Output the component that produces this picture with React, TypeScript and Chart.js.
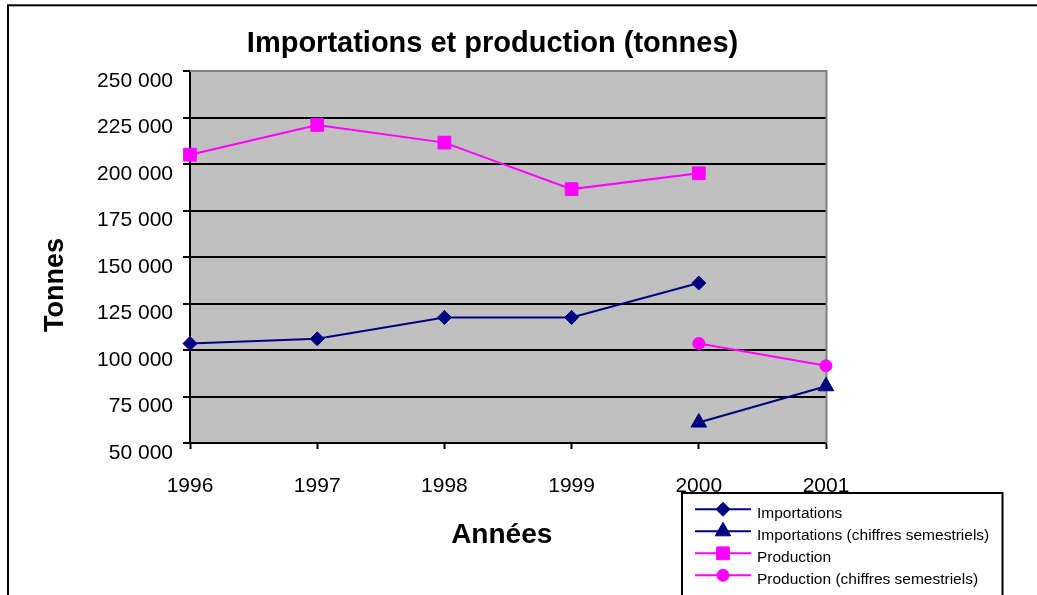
import React, { useEffect, useRef } from 'react';
import { Chart, registerables } from 'chart.js';

Chart.register(...registerables);

// ---- Data ----
const CHART_TITLE = 'Importations et production (tonnes)';
const X_TITLE = 'Années';
const Y_TITLE = 'Tonnes';
const YEARS = ['1996', '1997', '1998', '1999', '2000', '2001'];
const IMPORTATIONS = [103500, 106000, 117500, 117500, 136000, null];
const IMPORTATIONS_SEM = [null, null, null, null, 61000, 80500];
const PRODUCTION = [205000, 221000, 211500, 186500, 195000, null];
const PRODUCTION_SEM = [null, null, null, null, 103500, 91500];
const SERIES_LABELS = [
  'Importations',
  'Importations (chiffres semestriels)',
  'Production',
  'Production (chiffres semestriels)',
];
const Y_MIN = 50000;
const Y_MAX = 250000;
const Y_STEP = 25000;

const NAVY = '#000080';
const MAGENTA = '#FF00FF';
const FONT = '"Liberation Sans", Arial, Helvetica, sans-serif';

function fmt(v: number): string {
  return String(Math.round(v)).replace(/\B(?=(\d{3})+(?!\d))/g, ' ');
}

function drawMarker(ctx: CanvasRenderingContext2D, style: string, x: number, y: number, r: number, color: string) {
  ctx.beginPath();
  if (style === 'rectRot') {
    ctx.moveTo(x - r, y);
    ctx.lineTo(x, y - r);
    ctx.lineTo(x + r, y);
    ctx.lineTo(x, y + r);
  } else if (style === 'triangle') {
    ctx.moveTo(x, y - r);
    ctx.lineTo(x + 0.866 * r, y + 0.5 * r);
    ctx.lineTo(x - 0.866 * r, y + 0.5 * r);
  } else if (style === 'rect') {
    const s = Math.SQRT1_2 * r;
    ctx.rect(x - s, y - s, 2 * s, 2 * s);
  } else {
    ctx.arc(x, y, r, 0, Math.PI * 2);
  }
  ctx.closePath();
  ctx.fillStyle = color;
  ctx.strokeStyle = color;
  ctx.lineWidth = 1;
  ctx.fill();
  ctx.stroke();
}

const decorPlugin = {
  id: 'decor',
  beforeDraw(chart: any) {
    const { ctx, chartArea: a } = chart;
    ctx.save();
    ctx.fillStyle = '#C0C0C0';
    ctx.fillRect(a.left, a.top, a.right - a.left, a.bottom - a.top);
    ctx.strokeStyle = '#000';
    ctx.lineWidth = 2;
    ctx.strokeRect(8, 5.3, 3000, 3000);
    ctx.restore();
  },
  beforeDatasetsDraw(chart: any) {
    const { ctx, chartArea: a } = chart;
    ctx.save();
    ctx.strokeStyle = '#808080';
    ctx.lineWidth = 2;
    ctx.beginPath();
    ctx.moveTo(a.left, a.top);
    ctx.lineTo(a.right + 0.5, a.top);
    ctx.lineTo(a.right + 0.5, a.bottom);
    ctx.stroke();
    ctx.restore();
  },
  afterDraw(chart: any) {
    const { ctx } = chart;
    ctx.save();
    ctx.fillStyle = '#000';
    // Chart title
    ctx.font = `bold 29px ${FONT}`;
    ctx.textAlign = 'center';
    ctx.textBaseline = 'alphabetic';
    ctx.fillText(CHART_TITLE, 492.5, 52);
    // X title
    ctx.font = `bold 28px ${FONT}`;
    ctx.fillText(X_TITLE, 501.7, 542.7);
    // Y title
    ctx.save();
    ctx.translate(63, 285);
    ctx.rotate(-Math.PI / 2);
    ctx.font = `bold 27px ${FONT}`;
    ctx.fillText(Y_TITLE, 0, 0);
    ctx.restore();

    // Legend
    ctx.strokeStyle = '#000';
    ctx.lineWidth = 2;
    ctx.strokeRect(682, 493, 320.5, 300);
    const rows = [509.3, 531.3, 553.3, 575.3];
    chart.data.datasets.forEach((ds: any, i: number) => {
      const y = rows[i];
      ctx.strokeStyle = ds.borderColor;
      ctx.lineWidth = 2;
      ctx.beginPath();
      ctx.moveTo(695, y);
      ctx.lineTo(751, y);
      ctx.stroke();
      drawMarker(ctx, ds.pointStyle, 723, y, ds.pointRadius, ds.borderColor);
      ctx.fillStyle = '#000';
      ctx.font = `15.5px ${FONT}`;
      ctx.textAlign = 'left';
      ctx.textBaseline = 'alphabetic';
      ctx.fillText(ds.label, 757, y + 9);
    });
    ctx.restore();
  },
};

export default function App() {
  const ref = useRef<HTMLCanvasElement>(null);

  useEffect(() => {
    if (!ref.current) return;
    const common = { borderWidth: 2, pointBorderWidth: 1, clip: false as any, spanGaps: false };
    const chart = new Chart(ref.current, {
      type: 'line',
      data: {
        labels: YEARS,
        datasets: [
          {
            label: SERIES_LABELS[0],
            data: IMPORTATIONS,
            borderColor: NAVY,
            backgroundColor: NAVY,
            pointStyle: 'rectRot',
            pointRadius: 7,
            ...common,
          },
          {
            label: SERIES_LABELS[1],
            data: IMPORTATIONS_SEM,
            borderColor: NAVY,
            backgroundColor: NAVY,
            pointStyle: 'triangle',
            pointRadius: 9,
            ...common,
          },
          {
            label: SERIES_LABELS[2],
            data: PRODUCTION,
            borderColor: MAGENTA,
            backgroundColor: MAGENTA,
            pointStyle: 'rect',
            pointRadius: 9,
            ...common,
          },
          {
            label: SERIES_LABELS[3],
            data: PRODUCTION_SEM,
            borderColor: MAGENTA,
            backgroundColor: MAGENTA,
            pointStyle: 'circle',
            pointRadius: 6,
            ...common,
          },
        ] as any,
      },
      options: {
        responsive: false,
        animation: false,
        devicePixelRatio: 1,
        layout: { padding: { left: 0, top: 71, right: 211, bottom: 0 } },
        plugins: {
          legend: { display: false },
          title: { display: false },
          tooltip: { enabled: false },
        },
        scales: {
          x: {
            type: 'category',
            offset: false,
            afterFit: (s: any) => {
              s.height = 152;
            },
            grid: {
              display: true,
              drawOnChartArea: false,
              drawTicks: true,
              tickLength: 6,
              tickColor: '#000',
              tickWidth: 2,
              offset: false,
            },
            border: { display: true, color: '#000', width: 2 },
            ticks: {
              color: '#000',
              font: { family: FONT, size: 21 },
              padding: 25,
              autoSkip: false,
              maxRotation: 0,
            },
          },
          y: {
            min: Y_MIN,
            max: Y_MAX,
            afterFit: (s: any) => {
              s.width = 190;
            },
            grid: {
              color: (c: any) => (c.tick && c.tick.value === Y_MAX ? '#808080' : '#000'),
              lineWidth: 2,
              drawTicks: true,
              tickLength: 7,
              tickColor: '#000',
              tickWidth: 2,
            },
            border: { display: true, color: '#000', width: 2 },
            ticks: {
              stepSize: Y_STEP,
              color: '#000',
              font: { family: FONT, size: 21 },
              padding: 10,
              labelOffset: 10,
              callback: (v: any) => fmt(Number(v)),
            },
          },
        },
      },
      plugins: [decorPlugin],
    });
    return () => chart.destroy();
  }, []);

  return (
    <div style={{ position: 'absolute', left: 0, top: 0, width: 1037, height: 595 }}>
      <canvas ref={ref} width={1037} height={595} style={{ display: 'block' }} />
    </div>
  );
}
